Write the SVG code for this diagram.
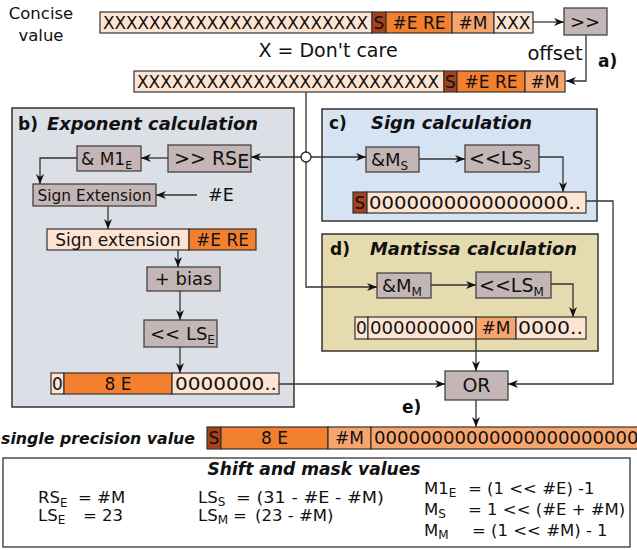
<svg xmlns="http://www.w3.org/2000/svg" width="637" height="550" viewBox="0 0 637 550">
<defs>
<style>
text{font-family:"DejaVu Sans","Liberation Sans",sans-serif;fill:#111}
.t17{font-size:17px}
.t16{font-size:16px}
.f{font-size:16.5px}
.bar{stroke:#333;stroke-width:1.2}
.x{fill:#fde4d2}
.s{fill:#a5411b}
.e{fill:#f3802e}
.m{fill:#f7a56d}
.box{fill:#c4b6b6;stroke:#444;stroke-width:1.3}
.panel{stroke:#333;stroke-width:1.5}
.c{fill:none;stroke:#333;stroke-width:1.3}
.bi{font-weight:bold;font-style:italic;font-size:17.5px}
.b{font-weight:bold;font-size:17px}
.mid{text-anchor:middle}
</style>
<marker id="ah" viewBox="0 0 10 8" refX="10" refY="4" markerWidth="10" markerHeight="8" markerUnits="userSpaceOnUse" orient="auto">
<path d="M0,0 L10,4 L0,8 L3,4 Z" fill="#111"/>
</marker>
</defs>
<rect width="637" height="550" fill="#fff"/>

<!-- panels -->
<g id="panel-b">
<rect class="panel" x="12" y="108" width="282" height="299" fill="#dcdfe6"/>
<text x="18" y="130" class="b">b)</text>
<text x="47" y="130" class="bi" textLength="211" lengthAdjust="spacingAndGlyphs">Exponent calculation</text>
</g>
<g id="panel-c">
<rect class="panel" x="322" y="109" width="275" height="112" fill="#d6e3f3"/>
<text x="329" y="129" class="b">c)</text>
<text x="371" y="129" class="bi" textLength="161" lengthAdjust="spacingAndGlyphs">Sign calculation</text>
</g>
<g id="panel-d">
<rect class="panel" x="322" y="234" width="276" height="117" fill="#e6dbae"/>
<text x="330" y="255" class="b">d)</text>
<text x="370" y="255" class="bi" textLength="207" lengthAdjust="spacingAndGlyphs">Mantissa calculation</text>
</g>

<!-- top labels -->
<g id="concise-label">
<text x="41" y="19" class="mid" style="font-size:16.5px">Concise</text>
<text x="41" y="41" class="mid" style="font-size:16.5px">value</text>
</g>
<g id="concise-bar">
<rect class="bar x" x="100" y="12" width="272" height="21"/>
<rect class="bar s" x="372" y="12" width="14" height="21"/>
<rect class="bar e" x="386" y="12" width="66" height="21"/>
<rect class="bar m" x="452" y="12" width="42" height="21"/>
<rect class="bar x" x="494" y="12" width="39" height="21"/>
<text x="103" y="29" class="t17" textLength="265" lengthAdjust="spacingAndGlyphs">XXXXXXXXXXXXXXXXXXXXXXX</text>
<text x="379" y="29" class="t17 mid">S</text>
<text x="419" y="29" class="t17 mid">#E RE</text>
<text x="473" y="29" class="t17 mid">#M</text>
<text x="513" y="29" class="t17 mid" textLength="35" lengthAdjust="spacingAndGlyphs">XXX</text>
</g>
<g id="dontcare"><text x="328" y="57" class="mid" style="font-size:19px">X = Don't care</text></g>
<g id="shift-offset">
<rect class="box" x="564" y="8" width="43" height="27"/>
<text x="585" y="28" class="mid" style="font-size:18px">&gt;&gt;</text>
<text x="555" y="60" class="mid" style="font-size:19.5px">offset</text>
<text x="598" y="67" class="b">a)</text>
</g>
<g id="aligned-bar">
<rect class="bar x" x="134" y="71" width="310" height="21"/>
<rect class="bar s" x="444" y="71" width="13" height="21"/>
<rect class="bar e" x="457" y="71" width="68" height="21"/>
<rect class="bar m" x="525" y="71" width="40" height="21"/>
<text x="137" y="88" class="t17" textLength="302" lengthAdjust="spacingAndGlyphs">XXXXXXXXXXXXXXXXXXXXXXXXXX</text>
<text x="450.5" y="88" class="t17 mid">S</text>
<text x="491" y="88" class="t17 mid">#E RE</text>
<text x="545" y="88" class="t17 mid">#M</text>
</g>

<!-- b nodes -->
<g id="shr-rse">
<rect class="box" x="168" y="145" width="83" height="27"/>
<text x="174" y="165" style="font-size:19px">&gt;&gt; RS<tspan dy="3">E</tspan></text>
</g>
<g id="and-m1e">
<rect class="box" x="77" y="146" width="64" height="25"/>
<text x="81" y="165" class="t17">&amp; M1<tspan dy="4" style="font-size:11px">E</tspan></text>
</g>
<g id="signext-op">
<rect class="box" x="33" y="184" width="123" height="22"/>
<text x="94.5" y="201" class="mid" style="font-size:16.5px;font-family:'DejaVu Sans Condensed','DejaVu Sans',sans-serif" textLength="114" lengthAdjust="spacingAndGlyphs">Sign Extension</text>
</g>
<g id="hash-e"><text x="208" y="201" style="font-size:17.5px">#E</text></g>
<g id="signext-bar">
<rect class="bar x" x="47" y="229" width="142" height="21"/>
<rect class="bar e" x="189" y="229" width="67" height="21"/>
<text x="118" y="246" class="t17 mid">Sign extension</text>
<text x="222.5" y="246" class="t17 mid">#E RE</text>
</g>
<g id="plus-bias">
<rect class="box" x="147" y="267" width="73" height="24"/>
<text x="183.5" y="285" class="mid" style="font-size:18px">+ bias</text>
</g>
<g id="shl-lse">
<rect class="box" x="144" y="320" width="73" height="27"/>
<text x="150" y="340" style="font-size:18px">&lt;&lt; LS<tspan dy="4" style="font-size:12px">E</tspan></text>
</g>
<g id="exp-bar">
<rect class="bar x" x="51" y="373" width="13" height="21"/>
<rect class="bar e" x="64" y="373" width="108" height="21"/>
<rect class="bar x" x="172" y="373" width="107" height="21"/>
<text x="57.5" y="390" class="t17 mid">0</text>
<text x="118" y="390" class="t17 mid">8 E</text>
<text x="175" y="390" class="t17" textLength="102" lengthAdjust="spacingAndGlyphs">0000000..</text>
</g>

<!-- c nodes -->
<g id="and-ms">
<rect class="box" x="366" y="147" width="53" height="25"/>
<text x="371" y="166" style="font-size:18px">&amp;M<tspan dy="4" style="font-size:12px">S</tspan></text>
</g>
<g id="shl-lss">
<rect class="box" x="465" y="145" width="74" height="27"/>
<text x="469" y="165" style="font-size:19px">&lt;&lt;LS<tspan dy="4" style="font-size:12px">S</tspan></text>
</g>
<g id="sign-bar">
<rect class="bar s" x="353" y="192" width="14" height="21"/>
<rect class="bar x" x="367" y="192" width="219" height="21"/>
<text x="360" y="209" class="t17 mid">S</text>
<text x="369" y="209" class="t17" textLength="212" lengthAdjust="spacingAndGlyphs">0000000000000000..</text>
</g>

<!-- d nodes -->
<g id="and-mm">
<rect class="box" x="377" y="273" width="54" height="25"/>
<text x="382" y="292" style="font-size:18px">&amp;M<tspan dy="4" style="font-size:12px">M</tspan></text>
</g>
<g id="shl-lsm">
<rect class="box" x="476" y="272" width="75" height="26"/>
<text x="479" y="292" style="font-size:19px">&lt;&lt;LS<tspan dy="4" style="font-size:12px">M</tspan></text>
</g>
<g id="mant-bar">
<rect class="bar x" x="355" y="317" width="13" height="22"/>
<rect class="bar x" x="368" y="317" width="108" height="22"/>
<rect class="bar m" x="476" y="317" width="40" height="22"/>
<rect class="bar x" x="516" y="317" width="70" height="22"/>
<text x="361.5" y="334" class="t17 mid">0</text>
<text x="370" y="334" class="t17" textLength="104" lengthAdjust="spacingAndGlyphs">000000000</text>
<text x="496" y="334" class="t17 mid">#M</text>
<text x="518" y="334" class="t17" textLength="65" lengthAdjust="spacingAndGlyphs">0000..</text>
</g>

<!-- e -->
<g id="or">
<rect class="box" x="445" y="371" width="63" height="29"/>
<text x="476.5" y="392" class="mid" style="font-size:19px">OR</text>
<text x="402" y="413" class="b">e)</text>
</g>
<g id="single-bar">
<text x="1" y="444" style="font-weight:bold;font-style:italic;font-size:16px" textLength="194" lengthAdjust="spacingAndGlyphs">single precision value</text>
<rect class="bar s" x="207" y="427" width="14" height="22"/>
<rect class="bar e" x="221" y="427" width="107" height="22"/>
<rect class="bar m" x="328" y="427" width="43" height="22"/>
<rect class="bar m" x="371" y="427" width="280" height="22"/>
<text x="214" y="444" class="t17 mid">S</text>
<text x="274.5" y="444" class="t17 mid">8 E</text>
<text x="349.5" y="444" class="t17 mid">#M</text>
<text x="374" y="444" class="t17" textLength="276" lengthAdjust="spacingAndGlyphs">000000000000000000000000</text>
</g>

<!-- legend -->
<g id="legend">
<rect x="3" y="458" width="627" height="89" fill="#fff" stroke="#333" stroke-width="1.3"/>
<text x="314" y="475" class="mid" style="font-weight:bold;font-style:italic;font-size:17px" textLength="213" lengthAdjust="spacingAndGlyphs">Shift and mask values</text>
<text x="38" y="503" class="f">RS<tspan dy="4" style="font-size:12px">E</tspan></text>
<text x="78" y="503" class="f">= #M</text>
<text x="38" y="521" class="f">LS<tspan dy="3" style="font-size:12px">E</tspan></text>
<text x="83" y="521" class="f">= 23</text>
<text x="198" y="503" class="f">LS<tspan dy="3" style="font-size:12px">S</tspan></text>
<text x="236" y="503" class="f" textLength="148" lengthAdjust="spacingAndGlyphs">= (31 - #E - #M)</text>
<text x="198" y="521" class="f">LS<tspan dy="3" style="font-size:12px">M</tspan></text>
<text x="233" y="521" class="f">=</text>
<text x="255" y="521" class="f">(23 - #M)</text>
<text x="424" y="494" class="f">M1<tspan dy="3" style="font-size:12px">E</tspan></text>
<text x="468" y="494" class="f">= (1 &lt;&lt; #E) -1</text>
<text x="424" y="515" class="f">M<tspan dy="3" style="font-size:12px">S</tspan></text>
<text x="468" y="515" class="f">= 1 &lt;&lt; (#E + #M)</text>
<text x="424" y="536" class="f">M<tspan dy="3" style="font-size:12px">M</tspan></text>
<text x="472" y="536" class="f">= (1 &lt;&lt; #M) - 1</text>
</g>

<!-- connectors -->
<g id="connectors">
<path class="c" d="M533,22 H564" marker-end="url(#ah)"/>
<path class="c" d="M586,35 V81 H566" marker-end="url(#ah)"/>
<path class="c" d="M306,92 V287 H377" marker-end="url(#ah)"/>
<path class="c" d="M301,157 H251" marker-end="url(#ah)"/>
<path class="c" d="M311,157 H366" marker-end="url(#ah)"/>
<path class="c" d="M168,158 H141" marker-end="url(#ah)"/>
<path class="c" d="M77,158 H40 V184" marker-end="url(#ah)"/>
<path class="c" d="M197,195 H156" marker-end="url(#ah)"/>
<path class="c" d="M108,206 V229" marker-end="url(#ah)"/>
<path class="c" d="M178,250 V267" marker-end="url(#ah)"/>
<path class="c" d="M180,291 V320" marker-end="url(#ah)"/>
<path class="c" d="M180,347 V373" marker-end="url(#ah)"/>
<path class="c" d="M279,384 H445" marker-end="url(#ah)"/>
<path class="c" d="M419,159 H465" marker-end="url(#ah)"/>
<path class="c" d="M539,157 H563 V192" marker-end="url(#ah)"/>
<path class="c" d="M586,201 H613 V384 H508" marker-end="url(#ah)"/>
<path class="c" d="M431,285 H476" marker-end="url(#ah)"/>
<path class="c" d="M551,284 H573 V317" marker-end="url(#ah)"/>
<path class="c" d="M476,339 V371" marker-end="url(#ah)"/>
<path class="c" d="M476,400 V427" marker-end="url(#ah)"/>
<circle cx="306" cy="157" r="5" fill="#fff" stroke="#222" stroke-width="1.3"/>
</g>
</svg>
